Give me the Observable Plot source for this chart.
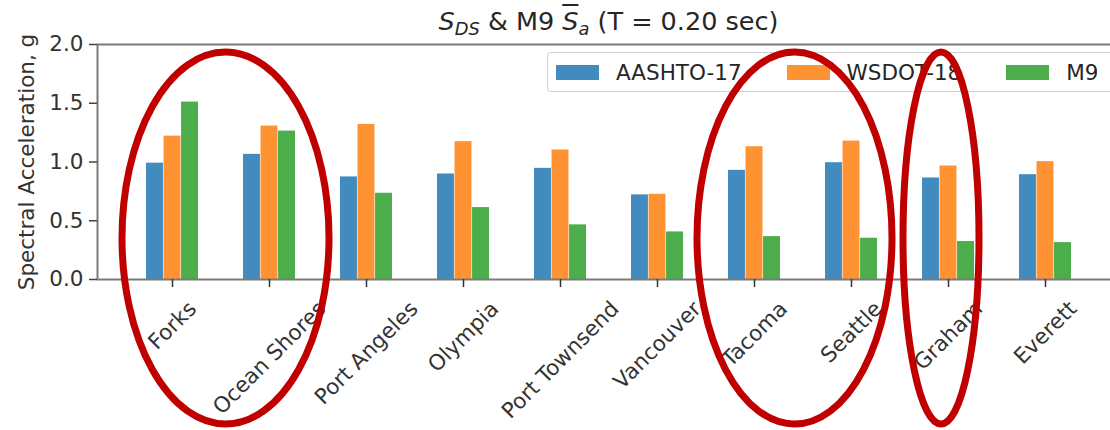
<!DOCTYPE html>
<html>
<head>
<meta charset="utf-8">
<script src="https://cdn.jsdelivr.net/npm/d3@7"></script>
<script src="https://cdn.jsdelivr.net/npm/@observablehq/plot@0.6"></script>
<style>
  html, body { margin: 0; padding: 0; background: #fff; overflow: hidden; }
  #wrap { position: relative; width: 1110px; height: 430px; font-family: "DejaVu Sans", sans-serif; }
  #title { position: absolute; left: 97px; width: 1023px; top: 9px; text-align: center; font-size: 25.5px; line-height: 1; color: #262626; white-space: nowrap; }
  #title .sub { font-size: 0.7em; position: relative; top: 0.3em; }
  #title .ov { text-decoration: overline; }
  #legend { position: absolute; left: 547px; top: 52px; width: 600px; height: 40px; box-sizing: border-box;
            border: 1px solid #d0d0d0; border-radius: 4px; background: rgba(255,255,255,0.85);
            padding-left: 8px; display: flex; align-items: center; }
  #legend .lg-swatches { margin: 0 !important; font-size: 21.5px !important; font-family: "DejaVu Sans", sans-serif !important;
            color: #262626; min-height: 0 !important; flex-wrap: nowrap !important; white-space: nowrap; }
  #legend .lg-swatch { margin-right: 45px !important; }
  #legend .lg-swatch > svg { margin-right: 17px !important; }
  #overlay { position: absolute; left: 0; top: 0; pointer-events: none; }
</style>
</head>
<body>
<div id="wrap">
  <div id="chart"></div>
  <div id="title"><i>S</i><span class="sub"><i>DS</i></span> &amp; M9 <i class="ov">S</i><span class="sub"><i>a</i></span> (T = 0.20 sec)</div>
  <div id="legend"></div>
</div>
<script>
// ---- data ----
const cities = ["Forks", "Ocean Shores", "Port Angeles", "Olympia", "Port Townsend",
                "Vancouver", "Tacoma", "Seattle", "Graham", "Everett"];
const seriesNames = ["AASHTO-17", "WSDOT-18", "M9"];
const aashto17 = [0.99, 1.065, 0.873, 0.898, 0.946, 0.72, 0.929, 0.994, 0.864, 0.892];
const wsdot18  = [1.22, 1.306, 1.32, 1.173, 1.102, 0.725, 1.13, 1.178, 0.966, 1.003];
const m9       = [1.51, 1.263, 0.734, 0.612, 0.465, 0.405, 0.365, 0.351, 0.323, 0.314];
const yTicks = [0, 0.5, 1.0, 1.5, 2.0];
const highlightGroups = [["Forks", "Ocean Shores"], ["Tacoma", "Seattle"], ["Graham"]];

// ---- styles ----
const colors = ["#418bbf", "#ff9232", "#4bae4b"];
const highlightStyle = [{dx: 5, pad: 55}, {dx: -8, pad: 49}, {dx: -7, pad: 38}];
const W = 1110, H = 430, mL = 97, mR = -10, mT = 44, mB = 151;
const xOpts = {domain: cities, paddingInner: 0.46, paddingOuter: 0.48};

const seriesValues = [aashto17, wsdot18, m9];
const rows = cities.flatMap((city, i) =>
  seriesNames.map((s, j) => ({city, series: s, value: seriesValues[j][i]})));

// band scale used to split each group into three adjacent bars
const xBand = Plot.scale({x: {type: "band", ...xOpts, range: [mL, W - mR]}});
const sub = xBand.bandwidth / 3;

const plot = Plot.plot({
  width: W,
  height: H,
  marginTop: mT,
  marginBottom: mB,
  marginLeft: mL,
  marginRight: mR,
  style: {fontFamily: "DejaVu Sans, sans-serif", fontSize: "21.5px", color: "#333", background: "transparent"},
  x: {...xOpts, label: null},
  y: {domain: [0, 2]},
  color: {domain: seriesNames, range: colors},
  marks: [
    ...seriesNames.map((s, j) =>
      Plot.barY(rows.filter(d => d.series === s),
        {x: "city", y: "value", fill: "series", insetLeft: j * sub, insetRight: (2 - j) * sub})),
    Plot.frame({stroke: "#7a7a7a", strokeWidth: 2}),
    Plot.axisY({ticks: yTicks, tickFormat: d3.format(".1f"), tickSize: 8, tickPadding: 6,
                stroke: "#444", strokeWidth: 1.5,
                label: "Spectral Acceleration, g", labelAnchor: "center", labelOffset: 79, labelArrow: "none"}),
    Plot.axisX({anchor: "bottom", tickSize: 8, tickPadding: 6, tickRotate: -45, label: null, stroke: "#333", strokeWidth: 1.5})
  ]
});
document.getElementById("chart").appendChild(plot);

// matplotlib-like centering of rotated x labels
const xs = plot.scale("x");
const yScale = plot.scale("y");
const center = c => xs.apply(c) + xs.bandwidth / 2;
const svgRect = plot.getBoundingClientRect();
const labelTop = yScale.apply(0) + 17;
plot.querySelectorAll('g[aria-label="x-axis tick label"] text').forEach(t => {
  const name = t.textContent;
  if (!cities.includes(name)) return;
  const r = t.getBoundingClientRect();
  const cx = r.left - svgRect.left + r.width / 2;
  const top = r.top - svgRect.top;
  const dx = center(name) - cx, dy = labelTop - top;
  t.setAttribute("transform", `translate(${dx},${dy}) ` + (t.getAttribute("transform") || ""));
});

// legend
const lg = plot.legend("color", {legend: "swatches", swatchWidth: 43, swatchHeight: 15, className: "lg"});
document.getElementById("legend").appendChild(lg);

// red highlight ellipses
const ns = "http://www.w3.org/2000/svg";
const ov = document.createElementNS(ns, "svg");
ov.setAttribute("id", "overlay");
ov.setAttribute("width", W);
ov.setAttribute("height", H);
highlightGroups.forEach((g, i) => {
  const cs = g.map(center);
  const mid = d3.mean(cs);
  const half = (d3.max(cs) - d3.min(cs)) / 2;
  const e = document.createElementNS(ns, "ellipse");
  e.setAttribute("cx", mid + highlightStyle[i].dx);
  e.setAttribute("cy", 238);
  e.setAttribute("rx", half + highlightStyle[i].pad);
  e.setAttribute("ry", 186);
  e.setAttribute("fill", "none");
  e.setAttribute("stroke", "#c00000");
  e.setAttribute("stroke-width", 7);
  ov.appendChild(e);
});
document.getElementById("wrap").appendChild(ov);
</script>
</body>
</html>
